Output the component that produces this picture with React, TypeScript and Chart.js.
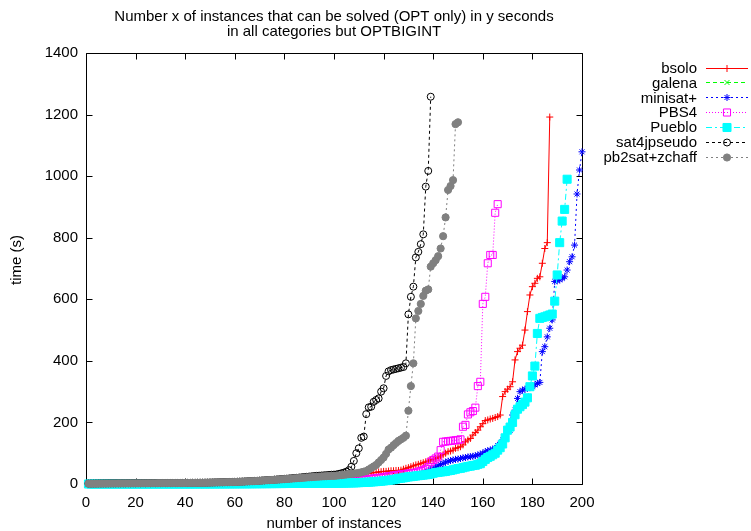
import React, { useEffect, useRef } from "react";
import { Chart, registerables } from "chart.js";

Chart.register(...registerables);

const titleLines = [
  "Number x of instances that can be solved (OPT only) in y seconds",
  "in all categories but OPTBIGINT",
];
const xTitle = "number of instances";
const yTitle = "time (s)";
const xTickValues = [0, 20, 40, 60, 80, 100, 120, 140, 160, 180, 200];
const yTickValues = [0, 200, 400, 600, 800, 1000, 1200, 1400];
const seriesNames = ["bsolo", "galena", "minisat+", "PBS4", "Pueblo", "sat4jpseudo", "pb2sat+zchaff"];

// time (s) of the k-th solved instance, k = 1..N
const bsolo = [
  0,
  0, 0, 0, 0, 0, 0, 0, 0.1, 0.1, 0.1,
  0.1, 0.1, 0.1, 0.1, 0.2, 0.2, 0.2, 0.2, 0.2, 0.3,
  0.3, 0.3, 0.3, 0.4, 0.4, 0.4, 0.5, 0.5, 0.5, 0.6,
  0.6, 0.7, 0.7, 0.8, 0.8, 0.9, 0.9, 1, 1, 1.1,
  1.1, 1.2, 1.3, 1.3, 1.4, 1.5, 1.6, 1.7, 1.8, 1.9,
  2, 2.1, 2.2, 2.3, 2.5, 2.6, 2.8, 2.9, 3.1, 3.3,
  3.5, 3.7, 3.9, 4.1, 4.3, 4.5, 4.7, 5, 5.2, 5.5,
  5.8, 6.1, 6.4, 6.7, 7, 7.3, 7.6, 8, 8.4, 8.8,
  9.2, 9.6, 10, 10.5, 11, 11.5, 12, 12.6, 13.2, 13.8,
  14.5, 15.2, 16, 16.8, 17.6, 18.4, 19.2, 20.1, 21, 22,
  23, 24, 25, 26, 27, 28, 29, 30, 31, 32,
  33, 34, 35, 36, 37, 38, 39, 40, 41, 41,
  42, 43, 43, 44, 44, 45, 48, 51, 53, 56,
  59, 62, 64, 67, 69, 72, 75, 78, 80, 83,
  87, 91, 95, 100, 105, 107, 110, 116, 118, 121,
  127, 137, 143, 148, 159, 167, 175, 186, 196, 206,
  208, 211, 213, 216, 219, 224, 284, 300, 308, 316,
  332, 403, 430, 441, 451, 500, 560, 614, 641, 652,
  668, 673, 717, 765, 784, 1192,
];

const galena = [
  0, 0, 0, 0, 0, 0, 0, 0, 0, 0,
  0, 0, 0, 0, 0, 0, 0, 0, 0, 0,
  0.1, 0.1, 0.1, 0.1, 0.1, 0.1, 0.1, 0.1, 0.2, 0.2,
  0.2, 0.2, 0.3, 0.3, 0.3, 0.4, 0.4, 0.5, 0.5, 0.6,
  0.7, 0.8, 0.9, 1, 1.1, 1.2, 1.4, 1.6, 1.8, 2,
  2.2, 2.5, 2.8, 3.1, 3.5,
];

const minisat = [
  0,
  0, 0, 0, 0, 0, 0, 0, 0, 0, 0,
  0, 0, 0, 0, 0, 0, 0, 0, 0, 0,
  0, 0, 0, 0, 0, 0, 0.1, 0.1, 0.1, 0.1,
  0.1, 0.1, 0.1, 0.1, 0.2, 0.2, 0.2, 0.2, 0.2, 0.2,
  0.3, 0.3, 0.3, 0.3, 0.4, 0.4, 0.4, 0.5, 0.5, 0.5,
  0.6, 0.6, 0.6, 0.7, 0.7, 0.8, 0.8, 0.8, 0.9, 0.9,
  1, 1, 1.1, 1.1, 1.2, 1.2, 1.3, 1.3, 1.4, 1.4,
  1.5, 1.5, 1.6, 1.6, 1.7, 1.7, 1.8, 1.8, 1.9, 1.9,
  2, 2, 2.1, 2.1, 2.2, 2.2, 2.3, 2.4, 2.5, 2.6,
  2.7, 2.8, 2.9, 3, 3.1, 3.2, 3.3, 3.4, 3.5, 3.6,
  3.8, 4, 4.2, 4.4, 4.6, 4.8, 5, 5.3, 5.6, 6,
  6.4, 6.8, 7.2, 7.6, 8, 8.5, 9, 9.6, 10.2, 11,
  12, 13, 14, 15, 16, 17, 18, 19, 20, 22,
  24, 26, 28, 31, 34, 38, 42, 46, 50, 55,
  59, 63, 67, 71, 74, 76, 78, 80, 81, 83,
  85, 86, 88, 89, 90, 92, 94, 97, 100, 105,
  108, 110, 113, 116, 125, 132, 143, 150, 170, 175,
  224, 240, 278, 300, 305, 308, 311, 313, 316, 322,
  327, 330, 430, 446, 478, 506, 533, 658, 660, 663,
  668, 673, 695, 722, 738, 776, 942, 1020, 1079,
];

const pbs4 = [
  0,
  0, 0, 0, 0, 0, 0, 0, 0, 0, 0,
  0, 0, 0, 0, 0, 0, 0, 0, 0.1, 0.1,
  0.1, 0.1, 0.1, 0.1, 0.1, 0.1, 0.1, 0.2, 0.2, 0.2,
  0.2, 0.2, 0.2, 0.3, 0.3, 0.3, 0.3, 0.4, 0.4, 0.4,
  0.5, 0.5, 0.5, 0.6, 0.6, 0.7, 0.7, 0.8, 0.8, 0.9,
  0.9, 1, 1, 1.1, 1.2, 1.3, 1.3, 1.4, 1.5, 1.6,
  1.7, 1.8, 1.9, 2, 2.1, 2.2, 2.3, 2.4, 2.5, 2.6,
  2.7, 2.8, 2.9, 3, 3.1, 3.2, 3.3, 3.4, 3.5, 3.6,
  3.7, 3.8, 3.9, 4, 4.1, 4.2, 4.4, 4.6, 4.8, 5,
  5.2, 5.4, 5.6, 5.8, 6, 6.3, 6.6, 6.9, 7.2, 7.5,
  8, 8.5, 9, 9.5, 10, 10.6, 11.2, 11.8, 12.4, 13,
  14, 15, 16, 17, 18, 19, 20, 21, 22, 24,
  25, 26, 28, 29, 30, 31, 32, 33, 34, 35,
  36, 37, 40, 42, 45, 49, 55, 72, 78, 83,
  89, 110, 137, 138, 139, 140, 141, 142, 143, 145,
  186, 192, 226, 233, 237, 248, 318, 332, 585, 608,
  717, 744, 744, 881, 909,
];

const pueblo = [
  0,
  0, 0, 0, 0, 0, 0, 0, 0, 0, 0,
  0, 0, 0, 0, 0, 0, 0, 0, 0, 0,
  0, 0, 0, 0, 0.1, 0.1, 0.1, 0.1, 0.1, 0.1,
  0.1, 0.1, 0.1, 0.1, 0.1, 0.2, 0.2, 0.2, 0.2, 0.2,
  0.2, 0.2, 0.3, 0.3, 0.3, 0.3, 0.3, 0.4, 0.4, 0.4,
  0.4, 0.5, 0.5, 0.5, 0.5, 0.6, 0.6, 0.6, 0.7, 0.7,
  0.7, 0.8, 0.8, 0.8, 0.9, 0.9, 1, 1, 1.1, 1.1,
  1.2, 1.2, 1.3, 1.3, 1.4, 1.4, 1.5, 1.5, 1.6, 1.6,
  1.7, 1.7, 1.8, 1.8, 1.9, 1.9, 2, 2, 2.1, 2.1,
  2.2, 2.2, 2.3, 2.3, 2.4, 2.4, 2.5, 2.5, 2.6, 2.7,
  2.8, 2.9, 3, 3.2, 3.4, 3.6, 3.8, 4, 4.4, 4.8,
  5.2, 5.6, 6, 6.6, 7.2, 7.8, 8.4, 9.2, 10, 11,
  12, 13, 14, 16, 18, 19, 20, 22, 23, 24,
  25, 26, 27, 28, 29, 30, 31, 33, 35, 37,
  38, 39, 40, 41, 43, 44, 46, 48, 50, 51,
  53, 55, 57, 58, 60, 61, 64, 66, 73, 80,
  86, 90, 95, 100, 110, 118, 130, 150, 175, 185,
  200, 225, 243, 251, 258, 266, 280, 316, 351, 383,
  489, 538, 541, 543, 546, 549, 552, 594, 679, 784,
  854, 892, 990,
];

const sat4jpseudo = [
  1.5,
  1.5, 1.6, 1.7, 1.8, 1.9, 2, 2, 2.1, 2.1, 2.2,
  2.2, 2.3, 2.3, 2.4, 2.4, 2.5, 2.5, 2.6, 2.6, 2.7,
  2.7, 2.8, 2.8, 2.9, 2.9, 3, 3, 3.1, 3.1, 3.2,
  3.2, 3.3, 3.3, 3.4, 3.4, 3.5, 3.5, 3.6, 3.7, 3.8,
  3.9, 4, 4.1, 4.2, 4.3, 4.4, 4.5, 4.7, 4.9, 5.1,
  5.3, 5.5, 5.7, 5.9, 6.1, 6.3, 6.5, 6.8, 7.1, 7.4,
  7.7, 8, 8.4, 8.8, 9.2, 9.6, 10, 10.5, 11, 11.5,
  12, 12.5, 13, 13.6, 14.2, 14.8, 15.4, 16, 16.7, 17.4,
  18.1, 18.8, 19.5, 20.2, 21, 21.8, 22.6, 23.4, 24.2, 25,
  25.7, 26.4, 27, 27.6, 28.2, 28.8, 29.4, 30, 30.5,
  31, 33, 35, 37, 40, 45, 56, 75, 100, 116,
  150, 154, 227, 249, 251, 267, 273, 278, 300, 311,
  351, 366, 370, 372, 374, 376, 378, 380, 392, 551,
  608, 641, 736, 754, 779, 811, 966, 1017, 1258,
];

const pb2sat = [
  1,
  1, 1.1, 1.2, 1.3, 1.4, 1.5, 1.5, 1.6, 1.6, 1.7,
  1.7, 1.8, 1.8, 1.9, 1.9, 2, 2, 2.1, 2.1, 2.2,
  2.2, 2.3, 2.3, 2.4, 2.4, 2.5, 2.5, 2.6, 2.6, 2.7,
  2.7, 2.8, 2.8, 2.9, 2.9, 3, 3, 3.1, 3.2, 3.3,
  3.4, 3.5, 3.6, 3.7, 3.8, 3.9, 4, 4.2, 4.4, 4.6,
  4.8, 5, 5.2, 5.4, 5.6, 5.8, 6, 6.3, 6.6, 6.9,
  7.2, 7.5, 7.9, 8.3, 8.7, 9.1, 9.5, 10, 10.5, 11,
  11.5, 12, 12.5, 13, 13.5, 14, 14.6, 15.2, 15.8, 16.4,
  17, 17.6, 18.2, 18.8, 19.4, 20, 20.6, 21.2, 21.8, 22.4,
  23, 23.5, 24, 24.5, 25, 25.5, 26, 26.3, 26.6,
  27, 28, 29, 30, 31, 32, 33, 34, 35, 36,
  38, 40, 42, 47, 52, 57, 62, 70, 78, 86,
  98, 112, 118, 126, 133, 140, 145, 150, 157, 238,
  318, 392, 538, 562, 585, 611, 628, 632, 706, 717,
  727, 740, 765, 805, 866, 955, 968, 987, 1169, 1175,
];

const seriesValues = [bsolo, galena, minisat, pbs4, pueblo, sat4jpseudo, pb2sat];

const seriesStyles = [
  { color: "#ff0000", dash: [] as number[], point: "cross", r: 3.5, fill: false },
  { color: "#00ff00", dash: [4, 3], point: "crossRot", r: 3.5, fill: false },
  { color: "#0000ff", dash: [2, 3], point: "star", r: 3.5, fill: false },
  { color: "#ff00ff", dash: [1, 2], point: "rect", r: 5, fill: false },
  { color: "#00ffff", dash: [6, 3, 2, 3], point: "rect", r: 5.7, fill: true },
  { color: "#000000", dash: [3, 3], point: "circle", r: 3.5, fill: false },
  { color: "#808080", dash: [2, 3], point: "circle", r: 3.6, fill: true },
];

const FAMILY = '"Liberation Sans", Arial, Helvetica, sans-serif';
const FONT_SIZE = 15;

function drawMarker(ctx: CanvasRenderingContext2D, style: string, x: number, y: number, r: number, color: string, fill: boolean) {
  ctx.save();
  ctx.setLineDash([]);
  ctx.strokeStyle = color;
  ctx.fillStyle = color;
  ctx.lineWidth = 1;
  ctx.beginPath();
  const d = r * Math.SQRT1_2;
  if (style === "cross" || style === "star") {
    ctx.moveTo(x - r, y); ctx.lineTo(x + r, y);
    ctx.moveTo(x, y - r); ctx.lineTo(x, y + r);
  }
  if (style === "crossRot" || style === "star") {
    ctx.moveTo(x - d, y - d); ctx.lineTo(x + d, y + d);
    ctx.moveTo(x + d, y - d); ctx.lineTo(x - d, y + d);
  }
  if (style === "rect") {
    ctx.rect(x - d, y - d, 2 * d, 2 * d);
    if (fill) ctx.fill();
  }
  if (style === "circle") {
    ctx.arc(x, y, r, 0, Math.PI * 2);
    if (fill) ctx.fill();
  }
  ctx.stroke();
  ctx.restore();
}

const decorPlugin = {
  id: "decor",
  beforeDraw(chart: any) {
    const ctx: CanvasRenderingContext2D = chart.ctx;
    ctx.save();
    ctx.fillStyle = "#ffffff";
    ctx.fillRect(0, 0, chart.width, chart.height);
    ctx.restore();
  },
  beforeDatasetsDraw(chart: any) {
    const ctx: CanvasRenderingContext2D = chart.ctx;
    const a = chart.chartArea;
    const xs = chart.scales.x;
    const ys = chart.scales.y;
    ctx.save();
    ctx.strokeStyle = "#000";
    ctx.lineWidth = 1;
    ctx.setLineDash([]);
    ctx.beginPath();
    ctx.rect(a.left + 0.5, a.top + 0.5, a.right - a.left, a.bottom - a.top);
    const tl = 6;
    xTickValues.forEach((v) => {
      const px = Math.round(xs.getPixelForValue(v)) + 0.5;
      ctx.moveTo(px, a.bottom + 0.5); ctx.lineTo(px, a.bottom + 0.5 - tl);
      ctx.moveTo(px, a.top + 0.5); ctx.lineTo(px, a.top + 0.5 + tl);
    });
    yTickValues.forEach((v) => {
      const py = Math.round(ys.getPixelForValue(v)) + 0.5;
      ctx.moveTo(a.left + 0.5, py); ctx.lineTo(a.left + 0.5 + tl, py);
      ctx.moveTo(a.right + 0.5, py); ctx.lineTo(a.right + 0.5 - tl, py);
    });
    ctx.stroke();
    ctx.restore();
  },
  afterDraw(chart: any) {
    const ctx: CanvasRenderingContext2D = chart.ctx;
    const a = chart.chartArea;
    const cx = (a.left + a.right) / 2;
    ctx.save();
    ctx.fillStyle = "#000";
    ctx.font = `${FONT_SIZE}px ${FAMILY}`;
    ctx.textBaseline = "alphabetic";
    ctx.textAlign = "center";
    ctx.fillText(titleLines[0], cx, 20.5);
    ctx.fillText(titleLines[1], cx, 35.5);
    ctx.fillText(xTitle, cx, 528);
    ctx.save();
    ctx.translate(21, 260);
    ctx.rotate(-Math.PI / 2);
    ctx.fillText(yTitle, 0, 0);
    ctx.restore();

    // legend
    seriesNames.forEach((name, i) => {
      const st = seriesStyles[i];
      const y = 67.5 + 14.85 * i;
      ctx.textAlign = "right";
      ctx.fillStyle = "#000";
      ctx.fillText(name, 697, y + 5.3);
      ctx.save();
      ctx.strokeStyle = st.color;
      ctx.lineWidth = 1;
      ctx.setLineDash(st.dash);
      ctx.beginPath();
      ctx.moveTo(706, Math.round(y) + 0.5);
      ctx.lineTo(748, Math.round(y) + 0.5);
      ctx.stroke();
      ctx.restore();
      drawMarker(ctx, st.point, 727, Math.round(y) + 0.5, st.r, st.color, st.fill);
    });
    ctx.restore();
  },
};

export default function App() {
  const ref = useRef<HTMLCanvasElement>(null);
  useEffect(() => {
    document.body.style.margin = "0";
    const canvas = ref.current;
    if (!canvas) return;
    const datasets = seriesNames.map((name, i) => {
      const st = seriesStyles[i];
      return {
        label: name,
        data: seriesValues[i].map((v, j) => ({ x: j + 1, y: v })),
        showLine: true,
        borderColor: st.color,
        backgroundColor: st.fill ? st.color : "rgba(0,0,0,0)",
        borderWidth: 1,
        borderDash: st.dash,
        pointStyle: st.point,
        pointRadius: st.r,
        pointBorderColor: st.color,
        pointBorderWidth: 1,
        pointBackgroundColor: st.fill ? st.color : "rgba(0,0,0,0)",
        tension: 0,
        order: -i,
        clip: false,
      };
    });
    const tickFont = { family: FAMILY, size: FONT_SIZE };
    const chart = new Chart(canvas, {
      type: "scatter",
      data: { datasets: datasets as any },
      options: {
        responsive: false,
        animation: false,
        devicePixelRatio: 1,
        events: [],
        layout: { padding: { left: 0, top: 53, right: 169, bottom: 0 } },
        plugins: {
          legend: { display: false },
          title: { display: false },
          tooltip: { enabled: false },
        },
        scales: {
          x: {
            type: "linear",
            min: 0,
            max: 200,
            afterBuildTicks: (s: any) => {
              s.ticks = xTickValues.map((v) => ({ value: v }));
            },
            afterFit: (s: any) => {
              s.height = 47;
            },
            grid: { display: false, drawTicks: false },
            border: { display: false },
            ticks: {
              color: "#000",
              font: tickFont,
              padding: 10,
              maxRotation: 0,
              autoSkip: false,
              callback: (v: any) => String(v),
            },
          },
          y: {
            type: "linear",
            min: 0,
            max: 1400,
            afterBuildTicks: (s: any) => {
              s.ticks = yTickValues.map((v) => ({ value: v }));
            },
            afterFit: (s: any) => {
              s.width = 86;
            },
            grid: { display: false, drawTicks: false },
            border: { display: false },
            ticks: {
              color: "#000",
              font: tickFont,
              padding: 8,
              autoSkip: false,
              callback: (v: any) => String(v),
            },
          },
        },
      } as any,
      plugins: [decorPlugin],
    });
    return () => chart.destroy();
  }, []);
  return (
    <div style={{ position: "absolute", left: 0, top: 0, width: 751, height: 531, background: "#fff" }}>
      <canvas ref={ref} width={751} height={531} style={{ display: "block" }} />
    </div>
  );
}
